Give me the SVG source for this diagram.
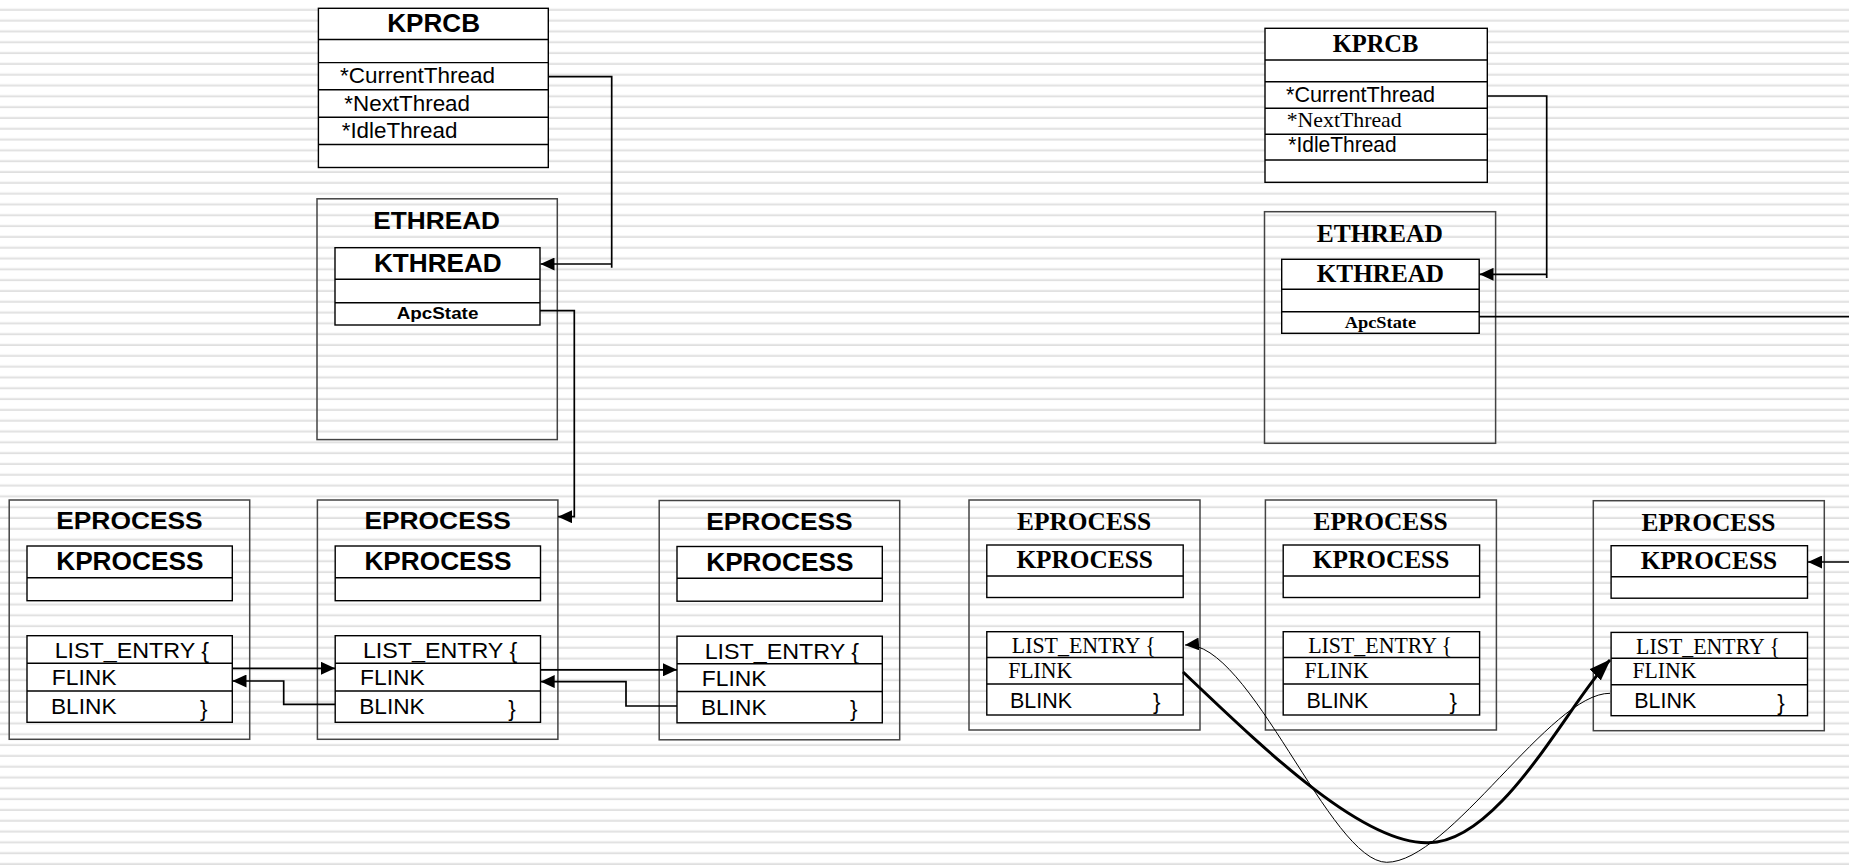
<svg xmlns="http://www.w3.org/2000/svg" width="1849" height="865" viewBox="0 0 1849 865">
<defs>
<pattern id="stripes" patternUnits="userSpaceOnUse" x="0" y="0" width="1849" height="10.8125">
<rect x="0" y="0" width="1849" height="10.8125" fill="#ffffff"/>
<rect x="0" y="8.6" width="1849" height="3" fill="#e9e9e9"/>
<rect x="0" y="9.6" width="1849" height="1" fill="#dddddd"/>
</pattern>
<marker id="arr" markerUnits="userSpaceOnUse" markerWidth="14" markerHeight="13" refX="14" refY="6.5" orient="auto">
<path d="M0,0 L14,6.5 L0,13 Z" fill="#000"/>
</marker>
<marker id="arrBig" markerUnits="userSpaceOnUse" markerWidth="22" markerHeight="16" refX="21" refY="8" orient="auto">
<path d="M0,0 L22,8 L0,16 Z" fill="#000"/>
</marker>
</defs>
<style>
.outer{fill:none;stroke:#444;stroke-width:1.5}
.box{fill:#fff;stroke:#000;stroke-width:1.4}
.ln{stroke:#000;stroke-width:1.4;fill:none}
.con{stroke:#000;stroke-width:1.7;fill:none}
.a{font-family:"Liberation Sans",Arial,sans-serif;fill:#000}
.t{font-family:"Liberation Serif","Times New Roman",serif;fill:#000}
.b{font-weight:bold}
</style>
<rect x="0" y="0" width="1849" height="865" fill="url(#stripes)"/>

<!-- LEFT KPRCB -->
<g id="kprcb-left">
<rect class="box" x="318.4" y="8.3" width="229.9" height="159.2"/>
<line class="ln" x1="318.4" y1="39.5" x2="548.3" y2="39.5"/>
<line class="ln" x1="318.4" y1="62.6" x2="548.3" y2="62.6"/>
<line class="ln" x1="318.4" y1="89.8" x2="548.3" y2="89.8"/>
<line class="ln" x1="318.4" y1="117.2" x2="548.3" y2="117.2"/>
<line class="ln" x1="318.4" y1="144.5" x2="548.3" y2="144.5"/>
<text class="a b" x="387.3" y="31.7" font-size="25" textLength="92.7" lengthAdjust="spacingAndGlyphs">KPRCB</text>
<text class="a" x="340" y="83" font-size="22" textLength="155" lengthAdjust="spacingAndGlyphs">*CurrentThread</text>
<text class="a" x="344.3" y="111" font-size="22" textLength="125.7" lengthAdjust="spacingAndGlyphs">*NextThread</text>
<text class="a" x="341.7" y="138" font-size="22" textLength="115.7" lengthAdjust="spacingAndGlyphs">*IdleThread</text>
</g>

<!-- LEFT ETHREAD -->
<g id="ethread-left">
<rect class="outer" x="317" y="198.8" width="240.3" height="240.8"/>
<text class="a b" x="373.3" y="229.3" font-size="24" textLength="126.7" lengthAdjust="spacingAndGlyphs">ETHREAD</text>
<rect class="box" x="335" y="247.7" width="205" height="77.3"/>
<line class="ln" x1="335" y1="279.3" x2="540" y2="279.3"/>
<line class="ln" x1="335" y1="302.7" x2="540" y2="302.7"/>
<text class="a b" x="374" y="271.7" font-size="26" textLength="127.7" lengthAdjust="spacingAndGlyphs">KTHREAD</text>
<text class="a b" x="396.7" y="319.3" font-size="16.5" textLength="81.7" lengthAdjust="spacingAndGlyphs">ApcState</text>
</g>

<!-- LEFT EPROCESS 1 -->
<g id="eprocess-l1">
<rect class="outer" x="9.2" y="500" width="240.5" height="239.3"/>
<text class="a b" x="56.2" y="529.3" font-size="23.5" textLength="146.5" lengthAdjust="spacingAndGlyphs">EPROCESS</text>
<rect class="box" x="27" y="546" width="205.3" height="54.7"/>
<line class="ln" x1="27" y1="577.7" x2="232.3" y2="577.7"/>
<text class="a b" x="56.2" y="570" font-size="25.5" textLength="147.2" lengthAdjust="spacingAndGlyphs">KPROCESS</text>
<rect class="box" x="27" y="635.7" width="205.3" height="86.6"/>
<line class="ln" x1="27" y1="663.3" x2="232.3" y2="663.3"/>
<line class="ln" x1="27" y1="691" x2="232.3" y2="691"/>
<text class="a" x="54.7" y="658" font-size="22.5" textLength="154.3" lengthAdjust="spacingAndGlyphs">LIST_ENTRY {</text>
<text class="a" x="51.8" y="685" font-size="22.5" textLength="64.7" lengthAdjust="spacingAndGlyphs">FLINK</text>
<text class="a" x="51" y="714" font-size="22.5" textLength="65.5" lengthAdjust="spacingAndGlyphs">BLINK</text>
<text class="a" x="200" y="715.5" font-size="22.5">}</text>
</g>

<!-- LEFT EPROCESS 2 -->
<g id="eprocess-l2" transform="translate(308.2,0)">
<rect class="outer" x="9.2" y="500" width="240.5" height="239.3"/>
<text class="a b" x="56.2" y="529.3" font-size="23.5" textLength="146.5" lengthAdjust="spacingAndGlyphs">EPROCESS</text>
<rect class="box" x="27" y="546" width="205.3" height="54.7"/>
<line class="ln" x1="27" y1="577.7" x2="232.3" y2="577.7"/>
<text class="a b" x="56.2" y="570" font-size="25.5" textLength="147.2" lengthAdjust="spacingAndGlyphs">KPROCESS</text>
<rect class="box" x="27" y="635.7" width="205.3" height="86.6"/>
<line class="ln" x1="27" y1="663.3" x2="232.3" y2="663.3"/>
<line class="ln" x1="27" y1="691" x2="232.3" y2="691"/>
<text class="a" x="54.7" y="658" font-size="22.5" textLength="154.3" lengthAdjust="spacingAndGlyphs">LIST_ENTRY {</text>
<text class="a" x="51.8" y="685" font-size="22.5" textLength="64.7" lengthAdjust="spacingAndGlyphs">FLINK</text>
<text class="a" x="51" y="714" font-size="22.5" textLength="65.5" lengthAdjust="spacingAndGlyphs">BLINK</text>
<text class="a" x="200" y="715.5" font-size="22.5">}</text>
</g>

<!-- LEFT EPROCESS 3 -->
<g id="eprocess-l3" transform="translate(650,0.5)">
<rect class="outer" x="9.2" y="500" width="240.5" height="239.3"/>
<text class="a b" x="56.2" y="529.3" font-size="23.5" textLength="146.5" lengthAdjust="spacingAndGlyphs">EPROCESS</text>
<rect class="box" x="27" y="546" width="205.3" height="54.7"/>
<line class="ln" x1="27" y1="577.7" x2="232.3" y2="577.7"/>
<text class="a b" x="56.2" y="570" font-size="25.5" textLength="147.2" lengthAdjust="spacingAndGlyphs">KPROCESS</text>
<rect class="box" x="27" y="635.7" width="205.3" height="86.6"/>
<line class="ln" x1="27" y1="663.3" x2="232.3" y2="663.3"/>
<line class="ln" x1="27" y1="691" x2="232.3" y2="691"/>
<text class="a" x="54.7" y="658" font-size="22.5" textLength="154.3" lengthAdjust="spacingAndGlyphs">LIST_ENTRY {</text>
<text class="a" x="51.8" y="685" font-size="22.5" textLength="64.7" lengthAdjust="spacingAndGlyphs">FLINK</text>
<text class="a" x="51" y="714" font-size="22.5" textLength="65.5" lengthAdjust="spacingAndGlyphs">BLINK</text>
<text class="a" x="200" y="715.5" font-size="22.5">}</text>
</g>

<!-- RIGHT KPRCB -->
<g id="kprcb-right">
<rect class="box" x="1265" y="28.3" width="222.3" height="154"/>
<line class="ln" x1="1265" y1="60" x2="1487.3" y2="60"/>
<line class="ln" x1="1265" y1="81.7" x2="1487.3" y2="81.7"/>
<line class="ln" x1="1265" y1="108.3" x2="1487.3" y2="108.3"/>
<line class="ln" x1="1265" y1="134.3" x2="1487.3" y2="134.3"/>
<line class="ln" x1="1265" y1="160" x2="1487.3" y2="160"/>
<text class="t b" x="1332.7" y="51.7" font-size="26" textLength="85.7" lengthAdjust="spacingAndGlyphs">KPRCB</text>
<text class="a" x="1286" y="101.7" font-size="22" textLength="149" lengthAdjust="spacingAndGlyphs">*CurrentThread</text>
<text class="t" x="1286.7" y="126.7" font-size="22" textLength="115" lengthAdjust="spacingAndGlyphs">*NextThread</text>
<text class="a" x="1288.3" y="151.7" font-size="22" textLength="108.3" lengthAdjust="spacingAndGlyphs">*IdleThread</text>
</g>

<!-- RIGHT ETHREAD -->
<g id="ethread-right">
<rect class="outer" x="1264.5" y="211.7" width="231.1" height="231.6"/>
<text class="t b" x="1316.8" y="241.7" font-size="26" textLength="126" lengthAdjust="spacingAndGlyphs">ETHREAD</text>
<rect class="box" x="1281.7" y="259.3" width="197.5" height="74"/>
<line class="ln" x1="1281.7" y1="289.3" x2="1479.2" y2="289.3"/>
<line class="ln" x1="1281.7" y1="311.7" x2="1479.2" y2="311.7"/>
<text class="t b" x="1316.8" y="281.7" font-size="26" textLength="127.2" lengthAdjust="spacingAndGlyphs">KTHREAD</text>
<text class="t b" x="1344.7" y="327.7" font-size="17" textLength="71.4" lengthAdjust="spacingAndGlyphs">ApcState</text>
</g>

<!-- RIGHT EPROCESS 4 -->
<g id="eprocess-r1" transform="translate(969,0)">
<rect class="outer" x="0" y="500" width="231" height="230"/>
<text class="t b" x="48.1" y="530" font-size="25" textLength="134" lengthAdjust="spacingAndGlyphs">EPROCESS</text>
<rect class="box" x="17.8" y="545" width="196.4" height="52.5"/>
<line class="ln" x1="17.8" y1="576" x2="214.2" y2="576"/>
<text class="t b" x="47.4" y="568" font-size="26" textLength="136.5" lengthAdjust="spacingAndGlyphs">KPROCESS</text>
<rect class="box" x="17.8" y="631.7" width="196.4" height="83.3"/>
<line class="ln" x1="17.8" y1="657.5" x2="214.2" y2="657.5"/>
<line class="ln" x1="17.8" y1="684" x2="214.2" y2="684"/>
<text class="t" x="42.8" y="653" font-size="23" textLength="143.9" lengthAdjust="spacingAndGlyphs">LIST_ENTRY {</text>
<text class="t" x="39.2" y="677.5" font-size="23" textLength="64" lengthAdjust="spacingAndGlyphs">FLINK</text>
<text class="a" x="41" y="707.5" font-size="22.5" textLength="62" lengthAdjust="spacingAndGlyphs">BLINK</text>
<text class="a" x="184" y="709" font-size="22.5">}</text>
</g>

<!-- RIGHT EPROCESS 5 -->
<g id="eprocess-r2" transform="translate(1265.4,0)">
<rect class="outer" x="0" y="500" width="231" height="230"/>
<text class="t b" x="48.1" y="530" font-size="25" textLength="134" lengthAdjust="spacingAndGlyphs">EPROCESS</text>
<rect class="box" x="17.8" y="545" width="196.4" height="52.5"/>
<line class="ln" x1="17.8" y1="576" x2="214.2" y2="576"/>
<text class="t b" x="47.4" y="568" font-size="26" textLength="136.5" lengthAdjust="spacingAndGlyphs">KPROCESS</text>
<rect class="box" x="17.8" y="631.7" width="196.4" height="83.3"/>
<line class="ln" x1="17.8" y1="657.5" x2="214.2" y2="657.5"/>
<line class="ln" x1="17.8" y1="684" x2="214.2" y2="684"/>
<text class="t" x="42.8" y="653" font-size="23" textLength="143.9" lengthAdjust="spacingAndGlyphs">LIST_ENTRY {</text>
<text class="t" x="39.2" y="677.5" font-size="23" textLength="64" lengthAdjust="spacingAndGlyphs">FLINK</text>
<text class="a" x="41" y="707.5" font-size="22.5" textLength="62" lengthAdjust="spacingAndGlyphs">BLINK</text>
<text class="a" x="184" y="709" font-size="22.5">}</text>
</g>

<!-- RIGHT EPROCESS 6 -->
<g id="eprocess-r3" transform="translate(1593.3,0.7)">
<rect class="outer" x="0" y="500" width="231" height="230"/>
<text class="t b" x="48.1" y="530" font-size="25" textLength="134" lengthAdjust="spacingAndGlyphs">EPROCESS</text>
<rect class="box" x="17.8" y="545" width="196.4" height="52.5"/>
<line class="ln" x1="17.8" y1="576" x2="214.2" y2="576"/>
<text class="t b" x="47.4" y="568" font-size="26" textLength="136.5" lengthAdjust="spacingAndGlyphs">KPROCESS</text>
<rect class="box" x="17.8" y="631.7" width="196.4" height="83.3"/>
<line class="ln" x1="17.8" y1="657.5" x2="214.2" y2="657.5"/>
<line class="ln" x1="17.8" y1="684" x2="214.2" y2="684"/>
<text class="t" x="42.8" y="653" font-size="23" textLength="143.9" lengthAdjust="spacingAndGlyphs">LIST_ENTRY {</text>
<text class="t" x="39.2" y="677.5" font-size="23" textLength="64" lengthAdjust="spacingAndGlyphs">FLINK</text>
<text class="a" x="41" y="707.5" font-size="22.5" textLength="62" lengthAdjust="spacingAndGlyphs">BLINK</text>
<text class="a" x="184" y="709" font-size="22.5">}</text>
</g>

<!-- CONNECTORS -->
<g id="connectors">
<path class="con" d="M548.3,76.7 H611.7 V267.7"/>
<path class="con" d="M611.7,264 H540.5" marker-end="url(#arr)"/>
<path class="con" d="M540,310.7 H574.3 V516.7 H558" marker-end="url(#arr)"/>
<path class="con" d="M232.3,668.3 H335" marker-end="url(#arr)"/>
<path class="con" d="M335,704.3 H283.7 V681 H232.5" marker-end="url(#arr)"/>
<path class="con" d="M540.5,669.8 H677" marker-end="url(#arr)"/>
<path class="con" d="M677,706 H626 V681.6 H540.7" marker-end="url(#arr)"/>
<path class="con" d="M1487.3,96 H1546.7 V278"/>
<path class="con" d="M1546.7,274.3 H1479.5" marker-end="url(#arr)"/>
<path class="con" d="M1479.2,316.7 H1849"/>
<path class="con" d="M1849,562 H1808" marker-end="url(#arr)"/>
<path d="M1183,672 C1260,745 1360,843 1426.7,842.7 C1500,845 1570,700 1610,660" fill="none" stroke="#000" stroke-width="3" marker-end="url(#arrBig)"/>
<path d="M1610,693.3 C1550,693 1450,862 1386.7,862.3 C1330,862 1250,640 1185,645" fill="none" stroke="#000" stroke-width="1" marker-end="url(#arr)"/>
</g>
</svg>
